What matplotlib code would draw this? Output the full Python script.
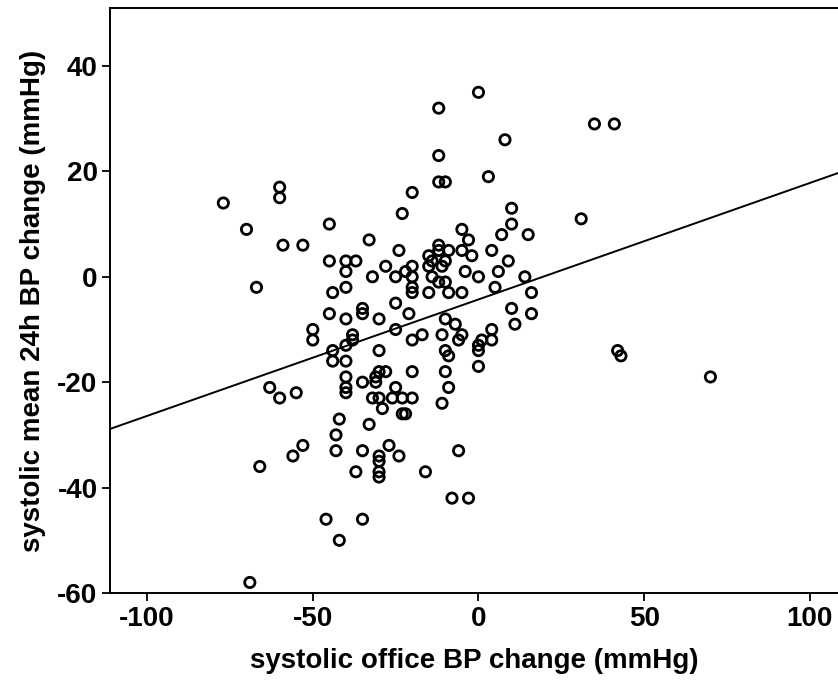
import numpy as np
import matplotlib
matplotlib.use('Agg')
import matplotlib.pyplot as plt

# systolic office BP change (x) vs systolic mean 24h BP change (y), mmHg
office_change = [
    0, -12, 35, 41, 8, -12, 3, -12, -10, -20, -77, 10, 31, -23, -60, -60,
    -70, -45, 10, -5, -59, -53, -33, 7, 15, -3, -24, -12, -12, -9, -5, 4,
    -2, -15, -14, -10, 9, -45, -40, -37, -28, -20, -15, -11, -40, -22, -4, 6,
    -32, -25, -20, -14, 0, 14, -12, -10, -67, -40, -20, 5, -44, -20, -15, -9,
    -5, 16, -25, -35, -35, -45, -21, 10, 16, -40, -30, -10, -7, 11, -50, -25,
    4, -50, -38, -38, -17, -11, -5, -20, -6, 1, 4, -40, 0, -44, -30, -10,
    0, -9, 42, 43, -44, -40, 0, 70, -30, -28, -20, -10, -40, -31, -31, -35,
    -63, -40, -25, -9, -40, -55, -60, -32, -30, -26, -23, -20, -29, -11, -23, -22,
    -42, -33, -43, -53, -27, -56, -43, -35, -30, -30, -24, -6, -66, -37, -30, -30,
    -16, -8, -3, -46, -35, -42, -69,
]
ambulatory_change = [
    35, 32, 29, 29, 26, 23, 19, 18, 18, 16, 14, 13, 11, 12, 17, 15,
    9, 10, 10, 9, 6, 6, 7, 8, 8, 7, 5, 6, 5, 5, 5, 5,
    4, 4, 3, 3, 3, 3, 3, 3, 2, 2, 2, 2, 1, 1, 1, 1,
    0, 0, 0, 0, 0, 0, -1, -1, -2, -2, -2, -2, -3, -3, -3, -3,
    -3, -3, -5, -6, -7, -7, -7, -6, -7, -8, -8, -8, -9, -9, -10, -10,
    -10, -12, -11, -12, -11, -11, -11, -12, -12, -12, -12, -13, -13, -14, -14, -14,
    -14, -15, -14, -15, -16, -16, -17, -19, -18, -18, -18, -18, -19, -19, -20, -20,
    -21, -21, -21, -21, -22, -22, -23, -23, -23, -23, -23, -23, -25, -24, -26, -26,
    -27, -28, -30, -32, -32, -34, -33, -33, -34, -35, -34, -33, -36, -37, -37, -38,
    -37, -42, -42, -46, -46, -50, -58,
]

# fitted regression line
fit_intercept = -4.3
fit_slope = 0.221

x_range = (-111.2, 108.5)
y_range = (-60, 51)

plt.rcParams['font.family'] = ['Liberation Sans', 'DejaVu Sans']
plt.rcParams['font.weight'] = 'bold'
plt.rcParams['axes.unicode_minus'] = False

fig = plt.figure(figsize=(8.38, 6.81), dpi=100)
ax = fig.add_axes([110/838, 1 - 593/681, 1 - 110/838, (593 - 8)/681])

ax.scatter(office_change, ambulatory_change, s=55, facecolors='none',
           edgecolors='black', linewidths=2.0, zorder=3)

xl = np.array(x_range)
ax.plot(xl, fit_intercept + fit_slope*xl, color='black', linewidth=1.4)

ax.set_xlim(*x_range)
ax.set_ylim(*y_range)
ax.set_xticks([-100, -50, 0, 50, 100])
ax.set_yticks([-60, -40, -20, 0, 20, 40])
ax.spines['right'].set_visible(False)
for sp in ['left', 'bottom', 'top']:
    ax.spines[sp].set_linewidth(1.4)
ax.tick_params(direction='out', length=6, width=1.3, labelsize=20, pad=3)
for lab in ax.get_xticklabels() + ax.get_yticklabels():
    lab.set_fontweight('bold')

ax.set_xlabel('systolic office BP change (mmHg)', fontsize=20, fontweight='bold', labelpad=12)
ax.set_ylabel('systolic mean 24h BP change (mmHg)', fontsize=20, fontweight='bold', labelpad=8)

fig.savefig('out.png', dpi=100)
